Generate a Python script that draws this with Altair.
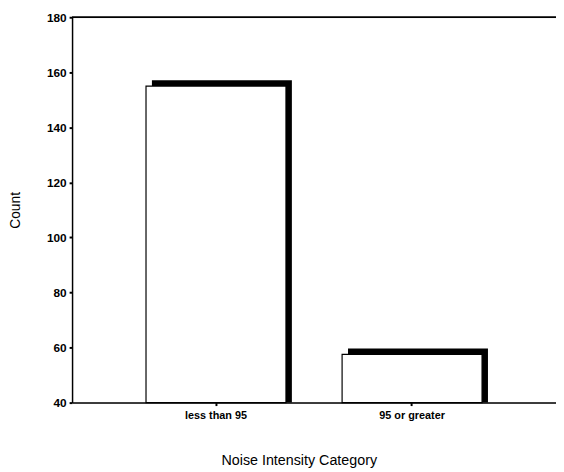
import altair as alt
import pandas as pd

categories = ["less than 95", "95 or greater"]
counts = [155, 57.5]

df = pd.DataFrame({"category": categories, "count": counts})

FONT = "Liberation Sans"

x_enc = alt.X(
    "category:N",
    sort=categories,
    scale=alt.Scale(paddingInner=0, paddingOuter=0.234),
    axis=alt.Axis(
        title="Noise Intensity Category",
        labelAngle=0,
        labelFont=FONT,
        labelFontSize=11,
        labelFontWeight="bold",
        labelColor="black",
        labelPadding=4,
        titleFont=FONT,
        titleFontSize=14.5,
        titleFontWeight="normal",
        titleColor="black",
        titlePadding=34,
        titleX=230,
        domainColor="black",
        domainWidth=1.5,
        tickColor="black",
        tickSize=3,
        tickWidth=2,
        grid=False,
    ),
)
y_scale = alt.Scale(domain=[40, 180], nice=False, zero=False)
y_axis = alt.Axis(
    title="Count",
    values=[40, 60, 80, 100, 120, 140, 160, 180],
    labelFont=FONT,
    labelFontSize=12,
    labelFontWeight="bold",
    labelColor="black",
    labelPadding=3,
    titleFont=FONT,
    titleFontSize=14,
    titleFontWeight="normal",
    titleColor="black",
    titlePadding=24,
    domainColor="black",
    domainWidth=1.5,
    tickColor="black",
    tickSize=3,
    tickWidth=2,
    grid=False,
)

shadow = alt.Chart(df).mark_bar(
    size=142, color="black", xOffset=6, yOffset=-6
).encode(
    x=x_enc,
    y=alt.Y("count:Q", scale=y_scale, axis=y_axis),
    y2=alt.datum(40),
)

bars = alt.Chart(df).mark_bar(
    size=142, fill="white", stroke="black", strokeWidth=1.2
).encode(
    x=alt.X("category:N", sort=categories),
    y=alt.Y("count:Q"),
    y2=alt.datum(40),
)

top_line = alt.Chart(df).mark_rule(color="black", strokeWidth=1.5).encode(
    y=alt.datum(180)
)

chart = alt.layer(shadow, bars, top_line).properties(
    width=491,
    height=391,
    autosize=alt.AutoSizeParams(type="none"),
    padding={"left": 65, "top": 6, "right": 0, "bottom": 66},
).configure_view(stroke=None).configure(background="white")

chart.save("out.html", embed_options={"renderer": "svg", "actions": False})
